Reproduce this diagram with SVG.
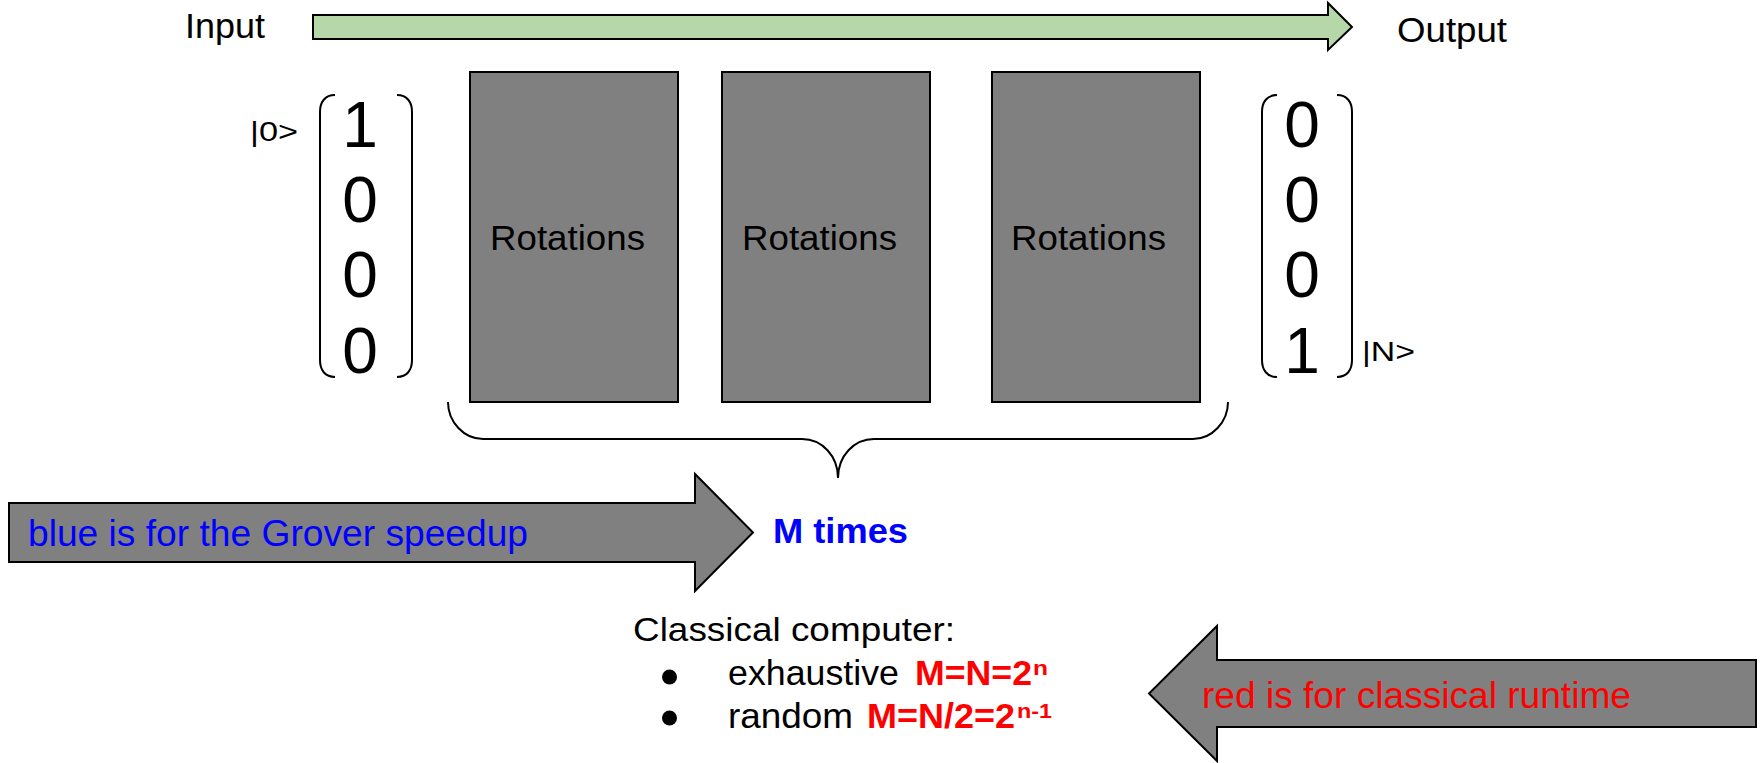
<svg xmlns="http://www.w3.org/2000/svg" width="1762" height="763" viewBox="0 0 1762 763">
<style>
  text { font-family: "Liberation Sans", Arial, sans-serif; fill: #000; }
  .box { fill: #808080; stroke: #000; stroke-width: 2; }
  .arrow { fill: #808080; stroke: #000; stroke-width: 2; stroke-linejoin: miter; }
  .line { fill: none; stroke: #000; stroke-width: 2; }
  .lbl { font-size: 35px; }
  .digit { font-size: 64px; text-anchor: middle; }
  .ket { font-size: 28px; }
  .red { fill: #ff0000; font-weight: bold; }
  .blue { fill: #0000ff; }
</style>

<g id="flow-arrow">
  <polygon points="313,15 1328,15 1328,3 1352,27 1328,50 1328,39 313,39" fill="#b6d7a8" stroke="#000" stroke-width="2"/>
  <text class="lbl" x="185" y="38" textLength="80" lengthAdjust="spacingAndGlyphs">Input</text>
  <text class="lbl" x="1397" y="42" textLength="110" lengthAdjust="spacingAndGlyphs">Output</text>
</g>

<g id="input-vector">
  <path class="line" d="M335,95 C325,95 320,102 320,112 L320,360 C320,370 325,377 335,377"/>
  <path class="line" d="M397,95 C407,95 412,102 412,112 L412,360 C412,370 407,377 397,377"/>
  <text class="digit" x="360" y="147">1</text>
  <text class="digit" x="360" y="222">0</text>
  <text class="digit" x="360" y="297">0</text>
  <text class="digit" x="360" y="373">0</text>
  <text class="ket" x="250" y="141" textLength="48" lengthAdjust="spacingAndGlyphs">|0&gt;</text>
</g>

<g id="rotations-1">
  <rect class="box" x="470" y="72" width="208" height="330"/>
  <text class="lbl" x="490" y="250" textLength="155" lengthAdjust="spacingAndGlyphs">Rotations</text>
</g>
<g id="rotations-2">
  <rect class="box" x="722" y="72" width="208" height="330"/>
  <text class="lbl" x="742" y="250" textLength="155" lengthAdjust="spacingAndGlyphs">Rotations</text>
</g>
<g id="rotations-3">
  <rect class="box" x="992" y="72" width="208" height="330"/>
  <text class="lbl" x="1011" y="250" textLength="155" lengthAdjust="spacingAndGlyphs">Rotations</text>
</g>

<g id="output-vector">
  <path class="line" d="M1277,95 C1267,95 1262,102 1262,112 L1262,360 C1262,370 1267,377 1277,377"/>
  <path class="line" d="M1337,95 C1347,95 1352,102 1352,112 L1352,360 C1352,370 1347,377 1337,377"/>
  <text class="digit" x="1302" y="147">0</text>
  <text class="digit" x="1302" y="222">0</text>
  <text class="digit" x="1302" y="297">0</text>
  <text class="digit" x="1302" y="373">1</text>
  <text class="ket" x="1362" y="361" textLength="53" lengthAdjust="spacingAndGlyphs">|N&gt;</text>
</g>

<g id="connectors">
  <path class="line" d="M448,402 C448,422 464,439 483,439 L802,439 C822,439 838,456 838,478 C838,456 854,439 874,439 L1193,439 C1212,439 1228,422 1228,402"/>
</g>

<g id="m-times">
  <text x="773" y="543" class="blue" font-size="35" font-weight="bold" textLength="135" lengthAdjust="spacingAndGlyphs">M times</text>
</g>

<g id="blue-arrow">
  <polygon class="arrow" points="9,503 695,503 695,474 753,532.5 695,591 695,562 9,562"/>
  <text x="28" y="546" class="blue" font-size="36" textLength="500" lengthAdjust="spacingAndGlyphs">blue is for the Grover speedup</text>
</g>

<g id="red-arrow">
  <polygon class="arrow" points="1756,660 1217,660 1217,626 1149,693.5 1217,761 1217,727 1756,727"/>
  <text x="1202" y="708" font-size="36" textLength="429" lengthAdjust="spacingAndGlyphs" style="fill:#ff0000">red is for classical runtime</text>
</g>

<g id="classical">
  <text x="633" y="641" font-size="34" textLength="322" lengthAdjust="spacingAndGlyphs">Classical computer:</text>
  <circle cx="669.5" cy="677" r="7.5" fill="#000"/>
  <circle cx="669.5" cy="718" r="7.5" fill="#000"/>
  <text x="728" y="685" font-size="35" textLength="171" lengthAdjust="spacingAndGlyphs">exhaustive</text>
  <text x="915" y="685" class="red" font-size="35" textLength="117" lengthAdjust="spacingAndGlyphs">M=N=2</text>
  <text x="1033" y="675" class="red" font-size="20" textLength="15" lengthAdjust="spacingAndGlyphs">n</text>
  <text x="728" y="728" font-size="35" textLength="125" lengthAdjust="spacingAndGlyphs">random</text>
  <text x="867" y="728" class="red" font-size="35" textLength="148" lengthAdjust="spacingAndGlyphs">M=N/2=2</text>
  <text x="1017" y="718" class="red" font-size="20" textLength="35" lengthAdjust="spacingAndGlyphs">n-1</text>
</g>
</svg>
